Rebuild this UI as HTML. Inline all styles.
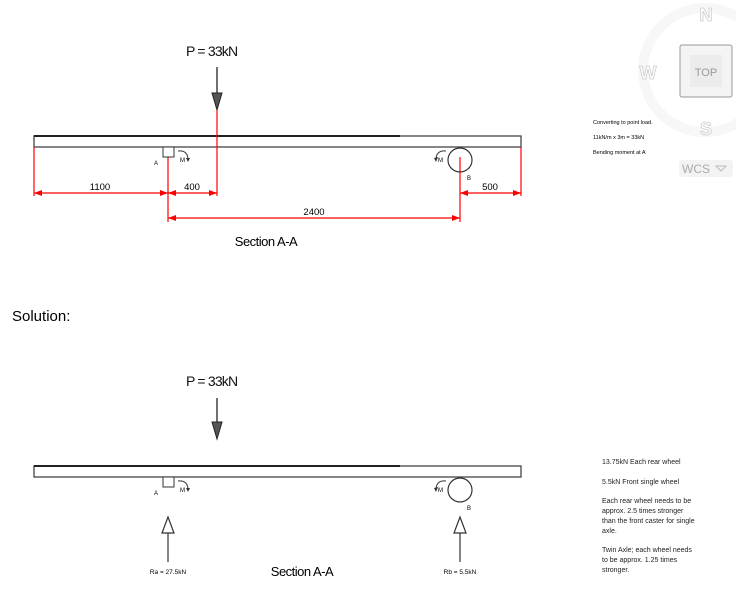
<!DOCTYPE html>
<html><head><meta charset="utf-8"><style>
html,body{margin:0;padding:0;background:#fff;width:736px;height:600px;overflow:hidden}
svg{display:block}
text{font-family:"Liberation Sans",sans-serif}
</style></head><body>
<svg width="736" height="600" viewBox="0 0 736 600">
<defs>
<marker id="ra" markerWidth="8" markerHeight="6" refX="8" refY="3" orient="auto" markerUnits="userSpaceOnUse"><path d="M0,0 L8,3 L0,6 z" fill="#f00"/></marker>
<marker id="rs" markerWidth="8" markerHeight="6" refX="0" refY="3" orient="auto" markerUnits="userSpaceOnUse"><path d="M8,0 L0,3 L8,6 z" fill="#f00"/></marker>
</defs>
<!-- compass -->
<circle cx="705" cy="70" r="62" fill="none" stroke="#f7f7f7" stroke-width="10"/>
<text x="706" y="21" font-size="18" font-weight="bold" fill="#fff" stroke="#ccc" stroke-width="0.8" text-anchor="middle">N</text>
<text x="648" y="79" font-size="18" font-weight="bold" fill="#fff" stroke="#ccc" stroke-width="0.8" text-anchor="middle">W</text>
<text x="706" y="135" font-size="18" font-weight="bold" fill="#fff" stroke="#ccc" stroke-width="0.8" text-anchor="middle">S</text>
<rect x="680" y="45" width="52" height="52" fill="#f4f4f4" stroke="#999" rx="2"/>
<rect x="690" y="55" width="32" height="32" fill="#ececec"/>
<text x="706" y="76" font-size="11" fill="#999" text-anchor="middle">TOP</text>
<rect x="679" y="160" width="54" height="17" rx="3" fill="#f3f3f3"/>
<text x="682" y="173" font-size="12" fill="#aaa">WCS</text>
<path d="M716,166 L726,166 L721,171 z" fill="none" stroke="#bbb"/>
<text x="593" y="124" font-size="5.5" fill="#000">Converting to point load.</text>
<text x="593" y="139" font-size="5.5" fill="#000">11kN/m x 3m = 33kN</text>
<text x="593" y="154" font-size="5.5" fill="#000">Bending moment at A</text>

<!-- top diagram -->
<text x="186" y="56" font-size="14" fill="#111" letter-spacing="-0.8">P = 33kN</text>
<line x1="217" y1="67" x2="217" y2="93" stroke="#222" stroke-width="1.3"/>
<path d="M212,93 L222,93 L217,110 z" fill="#555" stroke="#222"/>
<rect x="34" y="136" width="487" height="11" fill="#fff" stroke="#444" stroke-width="1.3"/>
<line x1="34" y1="136" x2="400" y2="136" stroke="#222" stroke-width="2"/>
<g stroke="#f00" stroke-width="1.2">
<line x1="217" y1="110" x2="217" y2="196"/>
<line x1="34" y1="147" x2="34" y2="196"/>
<line x1="168" y1="157" x2="168" y2="222"/>
<line x1="460" y1="162" x2="460" y2="222"/>
<line x1="521" y1="147" x2="521" y2="196"/>
<line x1="34" y1="193" x2="168" y2="193" marker-start="url(#rs)" marker-end="url(#ra)"/>
<line x1="168" y1="193" x2="217" y2="193" marker-start="url(#rs)" marker-end="url(#ra)"/>
<line x1="460" y1="193" x2="521" y2="193" marker-start="url(#rs)" marker-end="url(#ra)"/>
<line x1="168" y1="218" x2="460" y2="218" marker-start="url(#rs)" marker-end="url(#ra)"/>
</g>
<text x="100" y="190" font-size="9.5" text-anchor="middle">1100</text>
<text x="192" y="190" font-size="9.5" text-anchor="middle">400</text>
<text x="490" y="190" font-size="9.5" text-anchor="middle">500</text>
<text x="314" y="215" font-size="9.5" text-anchor="middle">2400</text>
<rect x="163" y="147" width="11" height="10" fill="#fff" stroke="#333"/>
<text x="154" y="165" font-size="6">A</text>
<text x="180" y="162" font-size="6">M</text>
<path d="M178,151 Q188,150 188,160" fill="none" stroke="#333"/>
<path d="M186,158 L190,158 L188,162 z" fill="#333"/>
<circle cx="460" cy="160" r="12" fill="#fff" stroke="#333" stroke-width="1.2"/>
<line x1="460" y1="157" x2="460" y2="172" stroke="#f00" stroke-width="1.2"/>
<text x="467" y="180" font-size="6">B</text>
<text x="438" y="162" font-size="6">M</text>
<path d="M446,151 Q436,150 436,160" fill="none" stroke="#333"/>
<path d="M434,158 L438,157 L436,162 z" fill="#333"/>
<text x="266" y="246" font-size="13" text-anchor="middle" letter-spacing="-0.5">Section A-A</text>

<text x="12" y="321" font-size="15">Solution:</text>

<!-- bottom diagram -->
<text x="186" y="386" font-size="14" fill="#111" letter-spacing="-0.8">P = 33kN</text>
<line x1="217" y1="398" x2="217" y2="423" stroke="#222" stroke-width="1.3"/>
<path d="M212,422 L222,422 L217,439 z" fill="#555" stroke="#222"/>
<rect x="34" y="466" width="487" height="11" fill="#fff" stroke="#444" stroke-width="1.3"/>
<line x1="34" y1="466" x2="400" y2="466" stroke="#222" stroke-width="2"/>
<rect x="163" y="477" width="11" height="10" fill="#fff" stroke="#333"/>
<text x="154" y="495" font-size="6">A</text>
<text x="180" y="492" font-size="6">M</text>
<path d="M178,481 Q188,480 188,490" fill="none" stroke="#333"/>
<path d="M186,488 L190,488 L188,492 z" fill="#333"/>
<circle cx="460" cy="490" r="12" fill="#fff" stroke="#333" stroke-width="1.2"/>
<text x="467" y="510" font-size="6">B</text>
<text x="438" y="492" font-size="6">M</text>
<path d="M446,481 Q436,480 436,490" fill="none" stroke="#333"/>
<path d="M434,488 L438,487 L436,492 z" fill="#333"/>
<path d="M168,517 L174,533 L162,533 z" fill="#fff" stroke="#333" stroke-width="1.2"/>
<line x1="168" y1="533" x2="168" y2="562" stroke="#333" stroke-width="1.2"/>
<path d="M460,517 L466,533 L454,533 z" fill="#fff" stroke="#333" stroke-width="1.2"/>
<line x1="460" y1="533" x2="460" y2="562" stroke="#333" stroke-width="1.2"/>
<text x="168" y="574" font-size="6.5" text-anchor="middle">Ra = 27.5kN</text>
<text x="460" y="574" font-size="6.5" text-anchor="middle">Rb = 5.5kN</text>
<text x="302" y="576" font-size="13" text-anchor="middle" letter-spacing="-0.5">Section A-A</text>

<g font-size="7" fill="#222">
<text x="602" y="464">13.75kN Each rear wheel</text>
<text x="602" y="484">5.5kN Front single wheel</text>
<text x="602" y="503">Each rear wheel needs to be</text>
<text x="602" y="513">approx. 2.5 times stronger</text>
<text x="602" y="523">than the front caster for single</text>
<text x="602" y="533">axle.</text>
<text x="602" y="552">Twin Axle; each wheel needs</text>
<text x="602" y="562">to be approx. 1.25 times</text>
<text x="602" y="572">stronger.</text>
</g>
</svg>
</body></html>
